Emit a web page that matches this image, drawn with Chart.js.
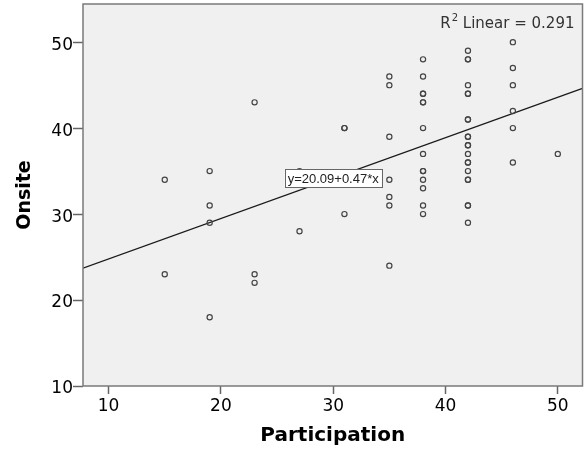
<!DOCTYPE html>
<html>
<head>
<meta charset="utf-8">
<script src="https://cdn.jsdelivr.net/npm/chart.js@4"></script>
<style>
  body { margin: 0; background: #fff; }
  canvas { display: block; }
</style>
</head>
<body>
<canvas id="chart" width="584" height="452"></canvas>
<script>
// scatter data (x = Participation, y = Onsite)
const participation = [
  15, 15,
  19, 19, 19, 19,
  23, 23, 23,
  27, 27,
  31, 31, 31,
  35, 35, 35, 35, 35, 35, 35,
  38, 38, 38, 38, 38, 38, 38, 38, 38, 38, 38, 38, 38, 38,
  42, 42, 42, 42, 42, 42, 42, 42, 42, 42, 42, 42, 42, 42, 42, 42, 42, 42, 42, 42, 42,
  46, 46, 46, 46, 46, 46,
  50
];
const onsite = [
  34, 23,
  35, 31, 29, 18,
  43, 23, 22,
  35, 28,
  40, 40, 30,
  46, 45, 39, 34, 32, 31, 24,
  48, 46, 44, 44, 43, 43, 40, 37, 35, 35, 34, 33, 31, 30,
  49, 48, 48, 45, 44, 44, 41, 41, 39, 39, 38, 38, 37, 36, 36, 35, 34, 34, 31, 31, 29,
  50, 47, 45, 42, 40, 36,
  37
];

// fit line as printed on the chart
const fitIntercept = 20.09;
const fitSlope = 0.47;
const rSquared = "0.291";
const fitLabelAt = 30;

// axes
const xRange = [7.72, 52.2];
const yRange = [10, 54.44];
const xTicks = [10, 20, 30, 40, 50];
const yTicks = [10, 20, 30, 40, 50];

const points = participation.map((p, i) => ({ x: p, y: onsite[i] }));
const fitLine = xRange.map(x => ({ x: x, y: fitIntercept + fitSlope * x }));

// grey plot background + frame, R2 note and equation box
const decor = {
  id: "decor",
  beforeDraw(chart) {
    const { ctx, chartArea: a } = chart;
    ctx.save();
    ctx.fillStyle = "#f0f0f0";
    ctx.fillRect(a.left, a.top, a.right - a.left, a.bottom - a.top);
    ctx.restore();
  },
  afterDatasetsDraw(chart) {
    const { ctx, chartArea: a, scales } = chart;
    ctx.save();
    ctx.strokeStyle = "#7a7a7a";
    ctx.lineWidth = 1.5;
    ctx.strokeRect(a.left, a.top, a.right - a.left, a.bottom - a.top);

    // R2 Linear = ...
    ctx.fillStyle = "#333";
    ctx.textBaseline = "alphabetic";
    ctx.textAlign = "right";
    ctx.font = "15px 'DejaVu Sans'";
    const rest = " Linear = " + rSquared;
    const restW = ctx.measureText(rest).width;
    const xEnd = a.right - 8;
    ctx.fillText(rest, xEnd, 27.5);
    ctx.font = "10px 'DejaVu Sans'";
    const supW = ctx.measureText("2").width;
    ctx.fillText("2", xEnd - restW, 20.5);
    ctx.font = "15px 'DejaVu Sans'";
    ctx.fillText("R", xEnd - restW - supW - 1, 27.5);

    // equation box on the line
    const cx = scales.x.getPixelForValue(fitLabelAt);
    const cy = scales.y.getPixelForValue(fitIntercept + fitSlope * fitLabelAt);
    ctx.font = "13px 'Liberation Sans', Arial, sans-serif";
    const eq = "y=" + fitIntercept.toFixed(2) + "+" + fitSlope.toFixed(2) + "*x";
    const w = ctx.measureText(eq).width + 6;
    const h = 18;
    ctx.fillStyle = "#fff";
    ctx.fillRect(cx - w / 2, cy - h / 2, w, h);
    ctx.strokeStyle = "#666";
    ctx.lineWidth = 1;
    ctx.strokeRect(Math.round(cx - w / 2) + 0.5, Math.round(cy - h / 2) + 0.5, Math.round(w), h);
    ctx.fillStyle = "#222";
    ctx.textAlign = "center";
    ctx.textBaseline = "middle";
    ctx.fillText(eq, cx, cy + 1);
    ctx.restore();
  }
};

new Chart(document.getElementById("chart"), {
  type: "scatter",
  data: {
    datasets: [
      {
        label: "Onsite",
        data: points,
        pointRadius: 2.6,
        pointBorderWidth: 1.2,
        pointBorderColor: "#444",
        pointBackgroundColor: "rgba(0,0,0,0)",
        showLine: false
      },
      {
        label: "Fit",
        data: fitLine,
        showLine: true,
        borderColor: "#1a1a1a",
        borderWidth: 1.2,
        pointRadius: 0,
        fill: false
      }
    ]
  },
  options: {
    responsive: false,
    animation: false,
    devicePixelRatio: 1,
    layout: { autoPadding: false, padding: { top: 4, right: 1.5, left: 0, bottom: 0 } },
    plugins: {
      legend: { display: false },
      tooltip: { enabled: false }
    },
    scales: {
      x: {
        type: "linear",
        min: xRange[0],
        max: xRange[1],
        afterBuildTicks: s => { s.ticks = xTicks.map(v => ({ value: v })); },
        afterFit: s => {
          s.height = 66;
          s.paddingLeft = 0;
          s.paddingRight = 0;
        },
        border: { display: false },
        grid: {
          drawOnChartArea: false,
          drawTicks: true,
          tickLength: 8,
          tickColor: "#666",
          tickWidth: 1.5
        },
        ticks: {
          color: "#000",
          padding: 2,
          maxRotation: 0,
          font: { family: "'DejaVu Sans'", size: 17 }
        },
        title: {
          display: true,
          text: "Participation",
          color: "#000",
          padding: { top: 0, bottom: 4 },
          font: { family: "'DejaVu Sans'", size: 20, weight: "bold" }
        }
      },
      y: {
        type: "linear",
        min: yRange[0],
        max: yRange[1],
        afterBuildTicks: s => { s.ticks = yTicks.map(v => ({ value: v })); },
        afterFit: s => {
          s.width = 83;
          s.paddingTop = 0;
          s.paddingBottom = 0;
        },
        border: { display: false },
        grid: {
          drawOnChartArea: false,
          drawTicks: true,
          tickLength: 10,
          tickColor: "#666",
          tickWidth: 1.5
        },
        ticks: {
          color: "#000",
          padding: 0,
          labelOffset: 3,
          font: { family: "'DejaVu Sans'", size: 17 }
        },
        title: {
          display: true,
          text: "Onsite",
          color: "#000",
          padding: { top: 14, bottom: 0 },
          font: { family: "'DejaVu Sans'", size: 19, weight: "bold" }
        }
      }
    }
  },
  plugins: [decor]
});
</script>
</body>
</html>
